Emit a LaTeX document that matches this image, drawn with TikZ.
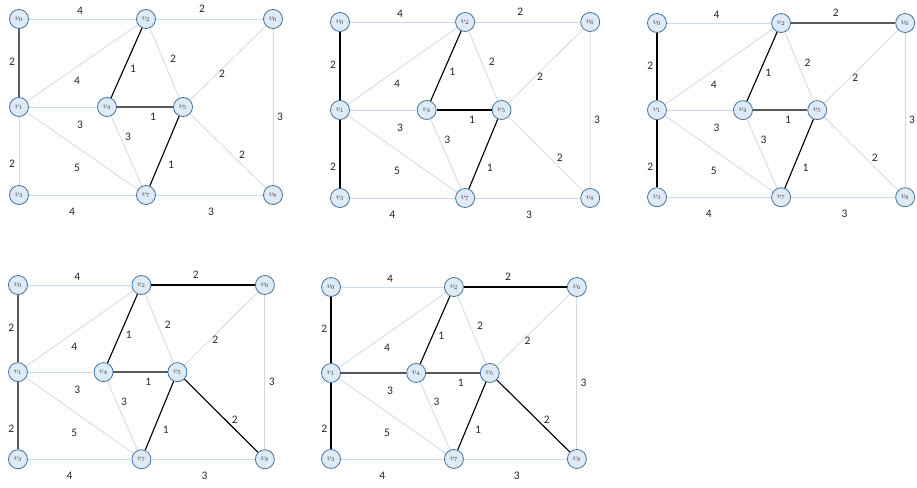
\documentclass[tikz,border=0pt]{standalone}
\usepackage{fontspec}
\setmainfont{Carlito}
\definecolor{vfill}{HTML}{DEEBF7}
\definecolor{vline}{HTML}{41719C}
\definecolor{eline}{HTML}{CCDAEE}
\definecolor{gline}{HTML}{595959}
\tikzset{
  vert/.style={circle, draw=vline, fill=vfill, line width=0.8pt, minimum size=19pt,
    inner sep=0pt, font=\fontsize{8.5}{8.5}\selectfont, text=black!75},
  faint/.style={draw=eline, line width=0.8pt},
  tree/.style={draw=black, line width=1.1pt},
  treeg/.style={draw=gline, line width=1.6pt},
  wt/.style={font=\fontsize{11.5}{12}\selectfont, text=black!85, inner sep=0pt},
}
% grafo completo, todas as arestas claras; cada etapa pinta por cima as que ja entraram
\newcommand\basegraph{%
  \node[vert] (v0) at (0,0) {$v_0$};
  \node[vert] (v2) at (127,0) {$v_2$};
  \node[vert] (v6) at (254,0) {$v_6$};
  \node[vert] (v1) at (0,88) {$v_1$};
  \node[vert] (v4) at (88,88) {$v_4$};
  \node[vert] (v5) at (164,88) {$v_5$};
  \node[vert] (v3) at (0,176) {$v_3$};
  \node[vert] (v7) at (127,176) {$v_7$};
  \node[vert] (v8) at (254,176) {$v_8$};
  \draw[faint] (v0) -- (v2);
  \draw[faint] (v2) -- (v6);
  \draw[faint] (v0) -- (v1);
  \draw[faint] (v1) -- (v2);
  \draw[faint] (v2) -- (v4);
  \draw[faint] (v2) -- (v5);
  \draw[faint] (v5) -- (v6);
  \draw[faint] (v6) -- (v8);
  \draw[faint] (v1) -- (v4);
  \draw[faint] (v4) -- (v5);
  \draw[faint] (v4) -- (v7);
  \draw[faint] (v1) -- (v7);
  \draw[faint] (v5) -- (v7);
  \draw[faint] (v5) -- (v8);
  \draw[faint] (v1) -- (v3);
  \draw[faint] (v3) -- (v7);
  \draw[faint] (v7) -- (v8);
  \node[wt] (w02) at (61,-8) {4};
  \node[wt] (w26) at (183,-10) {2};
  \node[wt] (w01) at (-7,43) {2};
  \node[wt] (w12) at (58,62) {4};
  \node[wt] (w24) at (114,50) {1};
  \node[wt] (w25) at (154,40) {2};
  \node[wt] (w56) at (203,55) {2};
  \node[wt] (w68) at (261,98) {3};
  \node[wt] (w14) at (61,106) {3};
  \node[wt] (w45) at (134,98) {1};
  \node[wt] (w47) at (109,118) {3};
  \node[wt] (w17) at (58,149) {5};
  \node[wt] (w57) at (152,146) {1};
  \node[wt] (w58) at (223,136) {2};
  \node[wt] (w13) at (-7,145) {2};
  \node[wt] (w37) at (53,193) {4};
  \node[wt] (w78) at (192,193) {3};
}
\begin{document}
\begin{tikzpicture}[x=1pt, y=-1pt]
  \useasboundingbox (0,0) rectangle (917,487);
  % etapa 1
  \begin{scope}[shift={(19,19)}, name prefix=a-]
    \basegraph
    \draw[treeg] (v0) -- (v1);
    \draw[treeg] (v4) -- (v5);
    \draw[tree] (v2) -- (v4);
    \draw[tree] (v5) -- (v7);
  \end{scope}
  % etapa 2
  \begin{scope}[shift={(340,22)}, xscale=0.985, name prefix=b-]
    \basegraph
    \draw[tree] (v0) -- (v1);
    \draw[tree] (v1) -- (v3);
    \draw[tree] (v2) -- (v4);
    \draw[tree] (v4) -- (v5);
    \draw[tree] (v5) -- (v7);
  \end{scope}
  % etapa 3
  \begin{scope}[shift={(657,23)}, xscale=0.977, yscale=0.99, name prefix=c-]
    \basegraph
    \draw[tree] (v0) -- (v1);
    \draw[tree] (v1) -- (v3);
    \draw[tree] (v2) -- (v4);
    \draw[treeg] (v4) -- (v5);
    \draw[tree] (v5) -- (v7);
    \draw[treeg] (v2) -- (v6);
  \end{scope}
  % etapa 4
  \begin{scope}[shift={(18,285)}, xscale=0.972, yscale=0.99, name prefix=d-]
    \basegraph
    \draw[treeg] (v0) -- (v1);
    \draw[treeg] (v1) -- (v3);
    \draw[tree] (v2) -- (v4);
    \draw[treeg] (v4) -- (v5);
    \draw[tree] (v5) -- (v7);
    \draw[tree] (v2) -- (v6);
    \draw[tree] (v5) -- (v8);
  \end{scope}
  % etapa 5
  \begin{scope}[shift={(331,287)}, xscale=0.968, yscale=0.977, name prefix=e-]
    \basegraph
    \draw[tree] (v0) -- (v1);
    \draw[tree] (v1) -- (v3);
    \draw[tree] (v1) -- (v4);
    \draw[tree] (v2) -- (v4);
    \draw[treeg] (v4) -- (v5);
    \draw[tree] (v5) -- (v7);
    \draw[tree] (v2) -- (v6);
    \draw[tree] (v5) -- (v8);
  \end{scope}
\end{tikzpicture}
\end{document}
